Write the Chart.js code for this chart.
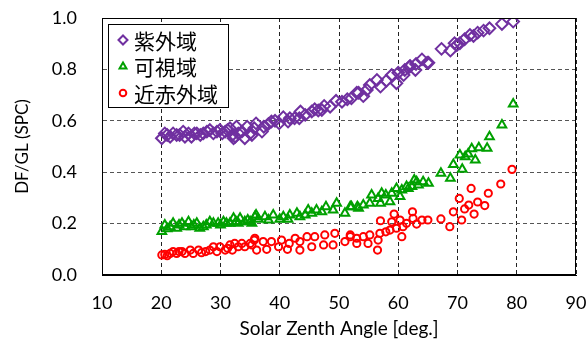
<!DOCTYPE html>
<html>
<head>
<meta charset="utf-8">
<script src="https://cdn.jsdelivr.net/npm/chart.js@4"></script>
<style>
  html, body { margin: 0; padding: 0; background: #ffffff; }
  #wrap { width: 587px; height: 340px; position: relative; }
</style>
</head>
<body>
<div id="wrap"><canvas id="c" width="587" height="340"></canvas></div>
<script>
// Series names (legend)
const seriesNames = ['紫外域', '可視域', '近赤外域'];

// Ultraviolet: solar zenith angle [deg] and DF/GL
const uvAngle = [20.1,20.6,21.0,21.5,22.0,22.6,23.1,23.7,24.0,24.6,25.1,25.6,26.0,26.6,27.1,27.7,28.2,28.8,29.4,29.9,30.3,30.8,31.2,31.6,32.0,32.2,32.5,32.7,33.0,33.6,34.1,34.5,35.0,35.3,35.7,36.0,37.0,37.3,38.1,38.6,39.2,39.9,40.6,41.4,41.7,42.5,43.3,43.5,44.3,45.4,45.9,46.5,47.1,47.5,48.5,49.5,50.5,51.4,52.1,53.0,53.3,54.1,54.7,55.2,56.4,57.0,58.0,58.9,59.7,60.0,60.9,61.1,61.9,62.0,62.9,63.0,64.0,64.9,65.1,67.3,68.8,69.5,69.9,70.4,71.2,72.1,72.7,73.4,74.4,75.4,77.5,79.4];
const uvRatio = [0.532,0.551,0.545,0.538,0.551,0.545,0.545,0.558,0.538,0.551,0.538,0.551,0.551,0.545,0.551,0.558,0.564,0.551,0.558,0.564,0.551,0.558,0.564,0.571,0.545,0.532,0.538,0.577,0.551,0.558,0.532,0.577,0.551,0.545,0.571,0.590,0.558,0.577,0.588,0.597,0.600,0.590,0.614,0.597,0.610,0.610,0.610,0.636,0.623,0.636,0.645,0.640,0.642,0.658,0.655,0.678,0.674,0.684,0.688,0.709,0.709,0.696,0.720,0.739,0.759,0.733,0.756,0.778,0.746,0.787,0.778,0.798,0.810,0.813,0.798,0.821,0.839,0.826,0.826,0.880,0.873,0.902,0.895,0.902,0.917,0.934,0.930,0.943,0.951,0.960,0.977,0.986];

// Visible
const visAngle = [20.1,20.6,21.0,21.5,22.0,22.6,23.0,23.5,24.0,24.6,25.1,25.5,26.0,26.5,27.1,27.6,28.2,28.8,29.6,30.0,30.5,31.0,31.6,32.2,32.6,33.0,33.3,34.1,34.6,35.0,35.3,35.8,36.0,36.4,37.5,38.1,38.9,40.0,40.6,41.4,41.7,42.9,43.4,44.3,44.8,45.4,46.2,47.1,47.8,49.0,49.6,51.0,51.9,52.1,53.1,53.3,54.1,55.2,55.5,56.6,57.0,57.2,57.9,58.6,58.9,59.7,60.3,60.6,61.4,61.7,62.3,62.7,63.1,63.4,64.2,65.1,67.2,68.8,69.3,70.4,70.8,71.3,71.8,72.4,73.0,73.6,75.0,75.4,77.5,79.4];
const visRatio = [0.169,0.195,0.180,0.188,0.201,0.182,0.195,0.201,0.188,0.207,0.188,0.195,0.201,0.182,0.188,0.195,0.207,0.201,0.201,0.195,0.207,0.201,0.201,0.221,0.207,0.201,0.221,0.207,0.214,0.207,0.201,0.227,0.233,0.217,0.227,0.214,0.233,0.217,0.227,0.217,0.233,0.240,0.227,0.233,0.253,0.240,0.253,0.246,0.266,0.253,0.279,0.240,0.266,0.266,0.266,0.260,0.272,0.279,0.311,0.298,0.279,0.318,0.311,0.285,0.318,0.337,0.305,0.331,0.344,0.337,0.344,0.370,0.363,0.350,0.363,0.357,0.396,0.376,0.430,0.467,0.411,0.460,0.471,0.491,0.447,0.495,0.493,0.538,0.584,0.665];

// Near infrared
const nirAngle = [20.1,20.6,21.0,21.5,22.0,22.6,23.0,23.5,24.0,24.9,25.4,26.3,26.8,27.5,28.2,28.8,29.4,29.9,30.8,31.2,31.6,32.0,32.4,33.0,33.6,34.1,35.0,35.3,35.7,35.8,36.1,37.2,37.8,38.6,39.8,40.3,41.3,41.6,42.6,43.4,43.4,44.6,45.4,45.9,47.4,47.6,49.0,49.3,51.0,51.9,51.9,53.0,53.0,54.1,54.9,55.2,56.5,56.6,56.9,57.0,57.9,58.6,58.9,59.3,59.7,60.3,60.6,60.8,61.4,62.4,62.5,63.1,64.0,65.0,67.2,68.7,69.3,70.3,70.7,71.2,71.9,72.3,72.8,73.4,74.6,75.2,77.3,79.2];
const nirRatio = [0.078,0.080,0.075,0.084,0.091,0.084,0.091,0.091,0.084,0.097,0.084,0.097,0.087,0.091,0.097,0.110,0.091,0.110,0.097,0.104,0.117,0.097,0.123,0.110,0.123,0.110,0.123,0.117,0.136,0.143,0.097,0.130,0.100,0.130,0.110,0.136,0.100,0.123,0.143,0.130,0.097,0.149,0.110,0.149,0.117,0.156,0.117,0.162,0.130,0.156,0.149,0.123,0.143,0.149,0.123,0.156,0.097,0.136,0.162,0.211,0.168,0.175,0.207,0.237,0.182,0.214,0.149,0.188,0.201,0.246,0.220,0.198,0.214,0.214,0.218,0.188,0.246,0.298,0.214,0.257,0.272,0.337,0.237,0.284,0.270,0.318,0.354,0.411];

// Axis ticks
const xTicks = [10, 20, 30, 40, 50, 60, 70, 80, 90];
const yTicks = [0.0, 0.2, 0.4, 0.6, 0.8, 1.0];

const toPoints = (xs, ys) => xs.map((x, i) => ({ x: x, y: ys[i] }));

const FONT = 'Lato, "Open Sans", sans-serif';
const CJK = '"Noto Sans CJK JP", sans-serif';

// Legend box drawn inside the plot area, upper left
const innerLegend = {
  id: 'innerLegend',
  afterDraw(chart) {
    const ctx = chart.ctx;
    const a = chart.chartArea;
    const left = Math.round(a.left) + 6, top = Math.round(a.top) + 6, w = 120, h = 83;
    ctx.save();
    ctx.fillStyle = '#ffffff';
    ctx.fillRect(left, top, w, h);
    ctx.strokeStyle = '#000000';
    ctx.lineWidth = 1;
    ctx.strokeRect(left + 0.5, top + 0.5, w, h);
    ctx.font = '21px ' + CJK;
    ctx.textBaseline = 'middle';
    chart.data.datasets.forEach((ds, i) => {
      const cy = top + 16 + i * 26.5;
      ctx.strokeStyle = ds.borderColor;
      ctx.fillStyle = 'rgba(0,0,0,0)';
      ctx.lineWidth = 2;
      Chart.helpers.drawPoint(ctx, { pointStyle: ds.pointStyle, radius: ds.legendRadius, borderWidth: 2 }, left + 15, cy);
      ctx.fillStyle = '#000000';
      ctx.fillText(ds.label, left + 26, cy + 1);
    });
    ctx.restore();
  }
};

new Chart(document.getElementById('c'), {
  type: 'scatter',
  data: {
    datasets: [
      { label: seriesNames[0], data: toPoints(uvAngle, uvRatio), pointStyle: 'rectRot', pointRadius: 5.8, legendRadius: 4.5,
        borderColor: '#7030A0', backgroundColor: 'rgba(0,0,0,0)', borderWidth: 2 },
      { label: seriesNames[1], data: toPoints(visAngle, visRatio), pointStyle: 'triangle', pointRadius: 5, legendRadius: 4,
        borderColor: '#00A000', backgroundColor: 'rgba(0,0,0,0)', borderWidth: 2 },
      { label: seriesNames[2], data: toPoints(nirAngle, nirRatio), pointStyle: 'circle', pointRadius: 3.6, legendRadius: 3.3,
        borderColor: '#FF0000', backgroundColor: 'rgba(0,0,0,0)', borderWidth: 2 }
    ]
  },
  options: {
    responsive: false,
    animation: false,
    layout: { autoPadding: false, padding: { top: 18, right: 11, left: 0, bottom: 0 } },
    plugins: { legend: { display: false }, tooltip: { enabled: false } },
    scales: {
      x: {
        type: 'linear', min: 10, max: 90,
        afterBuildTicks: s => { s.ticks = xTicks.map(v => ({ value: v })); },
        afterFit: s => { s.height = 65; s.paddingLeft = 0; s.paddingRight = 0; },
        border: { display: true, color: '#000000', width: 1, dash: [4, 3] },
        grid: { display: true, color: '#222222', lineWidth: 1, drawTicks: false },
        ticks: { padding: 17, color: '#000000', font: { family: FONT, size: 18 }, callback: v => String(v) },
        title: { display: true, text: 'Solar Zenth Angle [deg.]', color: '#000000', font: { family: FONT, size: 19 }, padding: { top: 0, bottom: 0 } }
      },
      y: {
        type: 'linear', min: 0, max: 1,
        afterBuildTicks: s => { s.ticks = yTicks.map(v => ({ value: v })); },
        afterFit: s => { s.width = 102; s.paddingTop = 0; s.paddingBottom = 0; },
        border: { display: true, color: '#000000', width: 1, dash: [4, 3] },
        grid: { display: true, color: '#555555', lineWidth: 1, drawTicks: false },
        ticks: { padding: 25, color: '#000000', font: { family: FONT, size: 18 }, callback: v => Number(v).toFixed(1) },
        title: { display: true, text: 'DF/GL (SPC)', color: '#000000', font: { family: FONT, size: 17 }, padding: { top: 12, bottom: 0 } }
      }
    }
  },
  plugins: [
    {
      id: 'frame',
      afterDatasetsDraw(chart) {
        const a = chart.chartArea, ctx = chart.ctx;
        ctx.save();
        ctx.strokeStyle = '#000000';
        ctx.lineWidth = 1;
        ctx.setLineDash([]);
        ctx.strokeRect(Math.round(a.left) + 0.5, Math.round(a.top) + 0.5, Math.round(a.right - a.left) - 1, Math.round(a.bottom - a.top) - 1);
        ctx.restore();
      }
    },
    innerLegend
  ]
});
</script>
</body>
</html>
